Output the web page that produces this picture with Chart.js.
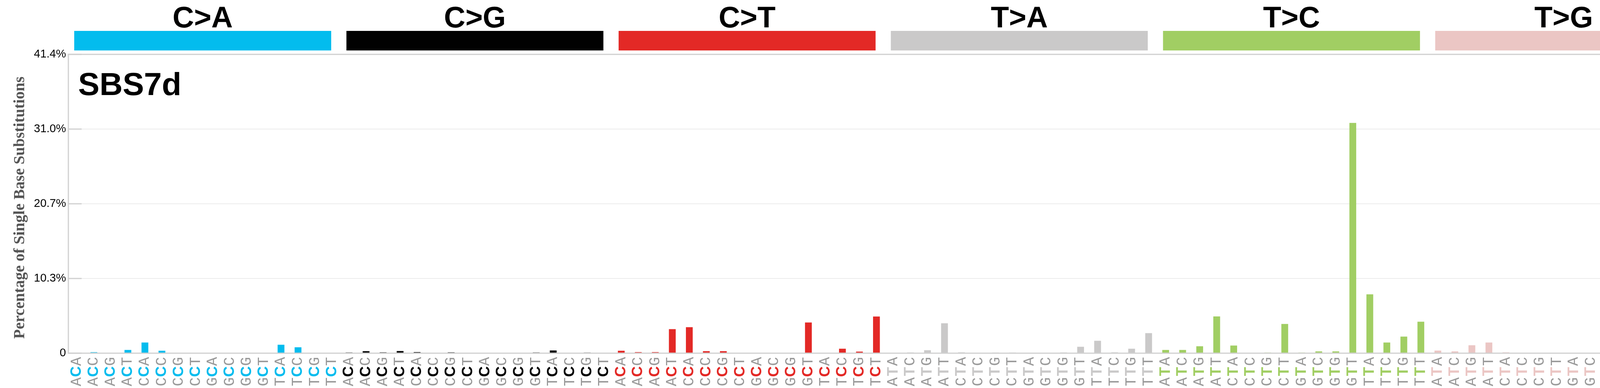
<!DOCTYPE html>
<html>
<head>
<meta charset="utf-8">
<script src="https://cdn.jsdelivr.net/npm/chart.js@4.4.0/dist/chart.umd.min.js"></script>
<style>
  html, body { margin: 0; padding: 0; background: #fff; overflow: hidden; }
  canvas { display: block; }
</style>
</head>
<body>
<canvas id="sbs" width="4393" height="992" style="width:4393px;height:992px"></canvas>
<script>
const groups = ["C>A", "C>G", "C>T", "T>A", "T>C", "T>G"];
const groupColors = ["#03bcee", "#010101", "#e32926", "#cac9c9", "#a1ce63", "#ebc6c4"];
const contexts = [
  "A_A", "A_C", "A_G", "A_T", "C_A", "C_C", "C_G", "C_T",
  "G_A", "G_C", "G_G", "G_T", "T_A", "T_C", "T_G", "T_T"
];

const valuesCA = [0.02, 0.14, 0.05, 0.45, 1.48, 0.34, 0, 0, 0.03, 0, 0, 0, 1.17, 0.82, 0, 0.05];
const valuesCG = [0.1, 0.28, 0.12, 0.3, 0.15, 0.05, 0.12, 0, 0.03, 0, 0.02, 0.1, 0.38, 0.05, 0.08, 0];
const valuesCT = [0.34, 0.15, 0.15, 3.33, 3.6, 0.28, 0.28, 0.05, 0.05, 0.05, 0.05, 4.25, 0.05, 0.62, 0.22, 5.08];
const valuesTA = [0, 0.1, 0.41, 4.15, 0.12, 0, 0.08, 0.08, 0, 0, 0.1, 0.89, 1.72, 0.12, 0.62, 2.78];
const valuesTC = [0.45, 0.45, 0.96, 5.1, 1.06, 0, 0.08, 4.05, 0.08, 0.25, 0.25, 31.9, 8.16, 1.48, 2.3, 4.36];
const valuesTG = [0.36, 0.25, 1.1, 1.48, 0.12, 0, 0, 0.02, 0, 0, 0.36, 0.72, 0.02, 0, 0.02, 0.02];

const yTicks = [0, 10.35, 20.7, 31.05, 41.4];
const yTickLabels = ["0", "10.3%", "20.7%", "31.0%", "41.4%"];
const yMax = 41.4;
const signatureName = "SBS7d";

const allValues = [valuesCA, valuesCG, valuesCT, valuesTA, valuesTC, valuesTG].flat();
const labels = [];
const barColors = [];
groups.forEach((g, gi) => {
  contexts.forEach((c) => {
    labels.push(c.replace("_", g[0]));
    barColors.push(groupColors[gi]);
  });
});

const decorPlugin = {
  id: "decor",
  afterDraw(chart) {
    const ctx = chart.ctx;
    const x = chart.scales.x;
    const y = chart.scales.y;
    const area = chart.chartArea;
    const half = (x.getPixelForValue(1) - x.getPixelForValue(0)) / 2;

    ctx.save();
    // frame
    ctx.strokeStyle = "#d0d0d0";
    ctx.lineWidth = 3;
    ctx.strokeRect(area.left, area.top, area.right - area.left, area.bottom - area.top);
    // tick marks inside both sides
    yTicks.forEach((t) => {
      const py = y.getPixelForValue(t);
      ctx.beginPath();
      ctx.moveTo(area.left, py);
      ctx.lineTo(area.left + 34, py);
      ctx.moveTo(area.right - 34, py);
      ctx.lineTo(area.right, py);
      ctx.stroke();
    });

    // group banners and headers
    groups.forEach((g, gi) => {
      const l = x.getPixelForValue(gi * 16) - half + 15;
      const r = x.getPixelForValue(gi * 16 + 15) + half - 24;
      ctx.fillStyle = groupColors[gi];
      ctx.fillRect(l, 79, r - l, 50);
      ctx.fillStyle = "#000";
      ctx.font = "bold 76px 'Liberation Sans', Arial, sans-serif";
      ctx.textAlign = "center";
      ctx.textBaseline = "alphabetic";
      ctx.fillText(g, (l + r) / 2, 70);
    });

    // signature name
    ctx.fillStyle = "#000";
    ctx.font = "bold 82px 'Liberation Sans', Arial, sans-serif";
    ctx.textAlign = "left";
    ctx.textBaseline = "middle";
    ctx.fillText(signatureName, 200, 220);

    // trinucleotide labels, rotated
    labels.forEach((lab, i) => {
      const px = x.getPixelForValue(i);
      const gi = Math.floor(i / 16);
      const rows = [[lab[2], 924], [lab[1], 950], [lab[0], 976]];
      rows.forEach(([ch, py], ri) => {
        ctx.save();
        ctx.translate(px, py);
        ctx.rotate(-Math.PI / 2);
        ctx.textAlign = "center";
        ctx.textBaseline = "middle";
        if (ri === 1) {
          ctx.fillStyle = groupColors[gi];
          ctx.font = "bold 38px 'Liberation Sans', Arial, sans-serif";
        } else {
          ctx.fillStyle = "#9a9a9a";
          ctx.font = "38px 'Liberation Mono', 'Courier New', monospace";
        }
        ctx.fillText(ch, 0, 0);
        ctx.restore();
      });
    });

    // y axis title
    ctx.save();
    ctx.translate(52, (area.top + area.bottom) / 2 + 10);
    ctx.rotate(-Math.PI / 2);
    ctx.fillStyle = "#555";
    ctx.font = "bold 40px 'Liberation Serif', 'Times New Roman', serif";
    ctx.textAlign = "center";
    ctx.textBaseline = "middle";
    ctx.fillText("Percentage of Single Base Substitutions", 0, 0);
    ctx.restore();
    ctx.restore();
  }
};

new Chart(document.getElementById("sbs").getContext("2d"), {
  type: "bar",
  data: {
    labels: labels,
    datasets: [{
      data: allValues,
      backgroundColor: barColors,
      barPercentage: 0.4,
      categoryPercentage: 1.0,
    }],
  },
  options: {
    responsive: false,
    devicePixelRatio: 1,
    animation: false,
    layout: { padding: { top: 139, right: 37, bottom: 0, left: 0 } },
    plugins: { legend: { display: false }, tooltip: { enabled: false } },
    scales: {
      x: {
        grid: { display: false },
        border: { display: false },
        ticks: { display: false },
        afterFit(scale) { scale.height = 89; },
      },
      y: {
        min: 0,
        max: yMax,
        afterBuildTicks(scale) { scale.ticks = yTicks.map((v) => ({ value: v })); },
        afterFit(scale) { scale.width = 175; },
        grid: { color: "#ececec", lineWidth: 2, drawTicks: false },
        border: { display: false },
        ticks: {
          padding: 6,
          color: "#000",
          font: { family: "'Liberation Sans', Arial, sans-serif", size: 29 },
          callback(v, i) { return yTickLabels[i]; },
        },
      },
    },
  },
  plugins: [decorPlugin],
});
</script>
</body>
</html>
